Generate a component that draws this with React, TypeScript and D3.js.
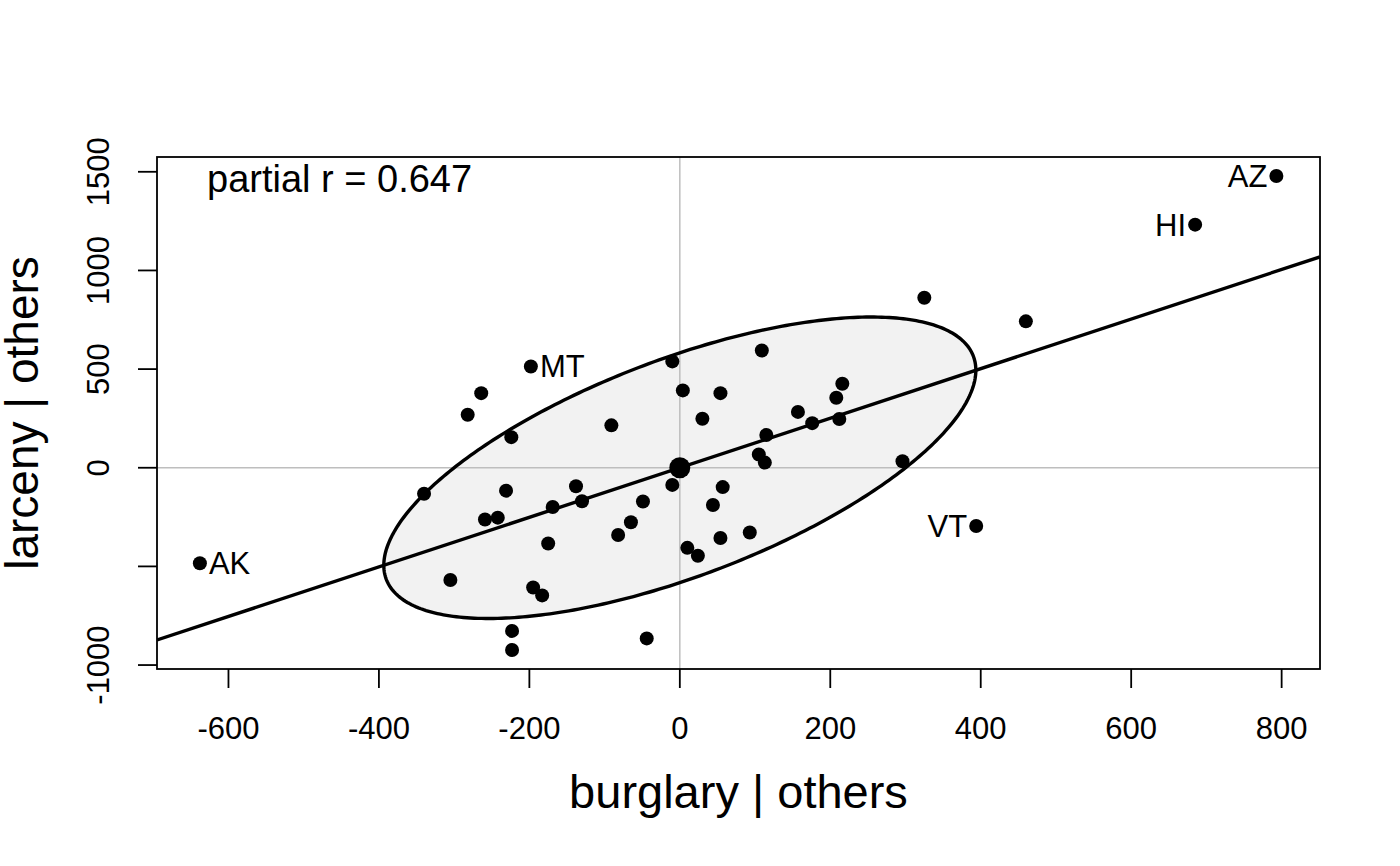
import React, { useEffect, useRef } from "react";
import * as d3 from "d3";

// residuals of burglary and larceny, each regressed on the other crimes
const burglaryResid = [
  793, 685, 325, 460, 109, -10, -198, 4, 54, -264, -282, -224, -91, 30, 216,
  208, 157, 176, 212, 115, 105, 113, 296, 394, -10, 57, -49, 44, -65, -82, 93,
  54, 10, 24, -340, -231, -138, -259, -242, -169, -130, -175, -305, -195, -183,
  -223, -223, -44, -638,
];
const larcenyResid = [
  1479, 1232, 862, 742, 594, 539, 513, 392, 378, 378, 269, 155, 215, 248, 426,
  355, 283, 226, 247, 166, 67, 26, 33, -295, -87, -98, -171, -189, -276, -341,
  -328, -356, -406, -446, -132, -116, -94, -262, -253, -199, -170, -384, -569,
  -607, -647, -827, -924, -865, -484,
];
const pointLabels = [
  "AZ", "HI", "", "", "", "", "MT", "", "", "", "", "", "", "", "", "", "", "",
  "", "", "", "", "", "VT", "", "", "", "", "", "", "", "", "", "", "", "", "",
  "", "", "", "", "", "", "", "", "", "", "", "AK",
];
const labelsOnLeft = ["AZ", "HI", "VT"];

const xTicks = [-600, -400, -200, 0, 200, 400, 600, 800];
const yTicks = [-1000, -500, 0, 500, 1000, 1500];
const yTickLabels = ["-1000", "", "0", "500", "1000", "1500"];

const partialR = 0.647;
const fitSlope = 1.256; // least squares slope through the origin
const ellipseHalfX = 393.5; // x and y half extents of the 50% data ellipse
const ellipseHalfY = 764;

const App: React.FC = () => {
  const svgRef = useRef<SVGSVGElement | null>(null);
  const width = 1400;
  const height = 866;
  const left = 157;
  const right = 1320;
  const top = 157;
  const bottom = 669;
  const font = "'Liberation Sans', Arial, sans-serif";

  useEffect(() => {
    const svg = d3.select(svgRef.current);
    svg.selectAll("*").remove();

    const x = d3.scaleLinear().domain([-695, 851]).range([left, right]);
    const y = d3.scaleLinear().domain([-1020, 1575]).range([bottom, top]);

    svg
      .append("defs")
      .append("clipPath")
      .attr("id", "plot-clip")
      .append("rect")
      .attr("x", left)
      .attr("y", top)
      .attr("width", right - left)
      .attr("height", bottom - top);

    const plot = svg.append("g").attr("clip-path", "url(#plot-clip)");

    // data ellipse
    const ts = d3.range(0, 361).map((d) => (d * Math.PI) / 180);
    const ellipsePts: [number, number][] = ts.map((t) => [
      ellipseHalfX * Math.cos(t),
      ellipseHalfY *
        (partialR * Math.cos(t) + Math.sqrt(1 - partialR * partialR) * Math.sin(t)),
    ]);
    const ellipseLine = d3
      .line<[number, number]>()
      .x((d) => x(d[0]))
      .y((d) => y(d[1]))
      .curve(d3.curveLinearClosed);

    plot
      .append("path")
      .attr("d", ellipseLine(ellipsePts))
      .attr("fill", "#f2f2f2")
      .attr("stroke", "none");

    // zero reference lines
    plot
      .append("line")
      .attr("x1", x(0))
      .attr("x2", x(0))
      .attr("y1", top)
      .attr("y2", bottom)
      .attr("stroke", "#bebebe")
      .attr("stroke-width", 1.5);
    plot
      .append("line")
      .attr("x1", left)
      .attr("x2", right)
      .attr("y1", y(0))
      .attr("y2", y(0))
      .attr("stroke", "#bebebe")
      .attr("stroke-width", 1.5);

    // points
    plot
      .selectAll(".pt")
      .data(burglaryResid)
      .enter()
      .append("circle")
      .attr("class", "pt")
      .attr("cx", (d) => x(d))
      .attr("cy", (_d, i) => y(larcenyResid[i]))
      .attr("r", 7)
      .attr("fill", "black");

    // fitted line
    const [x0, x1] = x.domain();
    plot
      .append("line")
      .attr("x1", x(x0))
      .attr("y1", y(fitSlope * x0))
      .attr("x2", x(x1))
      .attr("y2", y(fitSlope * x1))
      .attr("stroke", "black")
      .attr("stroke-width", 3.4);

    plot
      .append("path")
      .attr("d", ellipseLine(ellipsePts))
      .attr("fill", "none")
      .attr("stroke", "black")
      .attr("stroke-width", 3.4);

    // centroid
    plot
      .append("circle")
      .attr("cx", x(0))
      .attr("cy", y(0))
      .attr("r", 10.5)
      .attr("fill", "black");

    // point labels
    svg
      .selectAll(".lab")
      .data(
        burglaryResid
          .map((d, i) => ({ bx: d, ly: larcenyResid[i], name: pointLabels[i] }))
          .filter((d) => d.name !== "")
      )
      .enter()
      .append("text")
      .attr("class", "lab")
      .attr("x", (d) => x(d.bx) + (labelsOnLeft.includes(d.name) ? -9 : 9))
      .attr("y", (d) => y(d.ly))
      .attr("dy", "0.35em")
      .attr("text-anchor", (d) => (labelsOnLeft.includes(d.name) ? "end" : "start"))
      .attr("font-family", font)
      .attr("font-size", 31)
      .text((d) => d.name);

    // box
    svg
      .append("rect")
      .attr("x", left)
      .attr("y", top)
      .attr("width", right - left)
      .attr("height", bottom - top)
      .attr("fill", "none")
      .attr("stroke", "black")
      .attr("stroke-width", 1.8);

    // x axis
    const xAxis = svg.append("g");
    xAxis
      .selectAll("line")
      .data(xTicks)
      .enter()
      .append("line")
      .attr("x1", (d) => x(d))
      .attr("x2", (d) => x(d))
      .attr("y1", bottom)
      .attr("y2", bottom + 19)
      .attr("stroke", "black")
      .attr("stroke-width", 1.8);
    xAxis
      .selectAll("text")
      .data(xTicks)
      .enter()
      .append("text")
      .attr("x", (d) => x(d))
      .attr("y", 739)
      .attr("text-anchor", "middle")
      .attr("font-family", font)
      .attr("font-size", 31)
      .text((d) => String(d));

    // y axis
    const yAxis = svg.append("g");
    yAxis
      .selectAll("line")
      .data(yTicks)
      .enter()
      .append("line")
      .attr("x1", left - 19)
      .attr("x2", left)
      .attr("y1", (d) => y(d))
      .attr("y2", (d) => y(d))
      .attr("stroke", "black")
      .attr("stroke-width", 1.8);
    yAxis
      .selectAll("text")
      .data(yTicks)
      .enter()
      .append("text")
      .attr("transform", (d) => `translate(108.5, ${y(d)}) rotate(-90)`)
      .attr("text-anchor", "middle")
      .attr("font-family", font)
      .attr("font-size", 31)
      .text((_d, i) => yTickLabels[i]);

    // titles
    svg
      .append("text")
      .attr("x", (left + right) / 2)
      .attr("y", 808)
      .attr("text-anchor", "middle")
      .attr("font-family", font)
      .attr("font-size", 47)
      .text("burglary | others");

    svg
      .append("text")
      .attr("transform", `translate(38, ${(top + bottom) / 2}) rotate(-90)`)
      .attr("text-anchor", "middle")
      .attr("font-family", font)
      .attr("font-size", 46)
      .text("larceny | others");

    svg
      .append("text")
      .attr("x", 207)
      .attr("y", 192)
      .attr("font-family", font)
      .attr("font-size", 38)
      .text(`partial r = ${partialR}`);
  }, []);

  return (
    <svg
      ref={svgRef}
      width={width}
      height={height}
      style={{ position: "absolute", left: 0, top: 0, background: "white" }}
    ></svg>
  );
};

export default App;
